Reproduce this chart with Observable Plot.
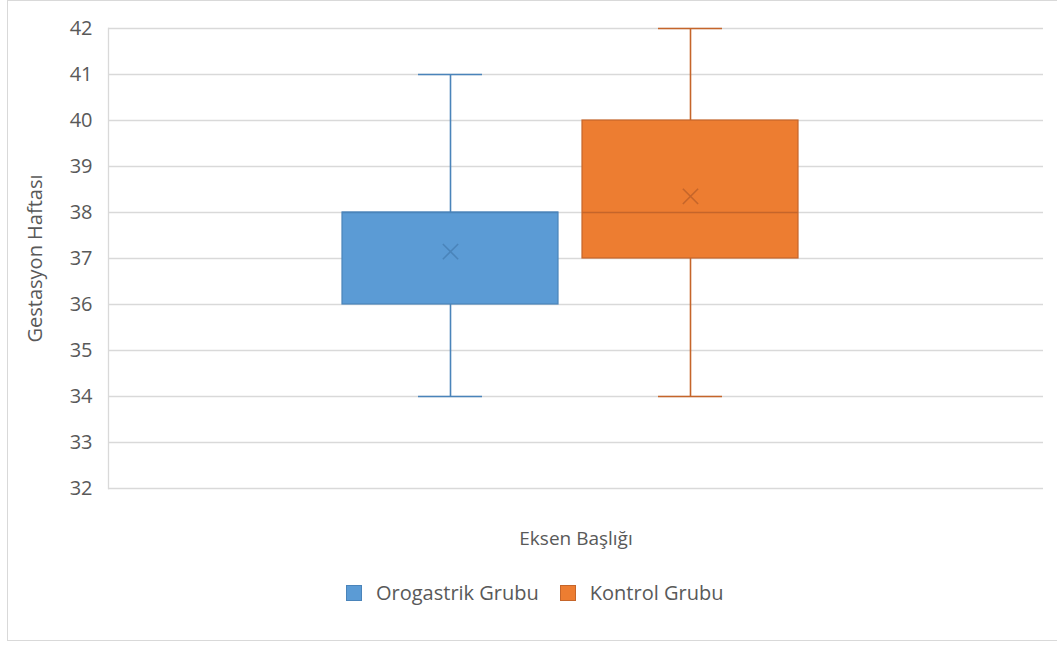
<!DOCTYPE html>
<html><head><meta charset="utf-8">
<script src="https://cdn.jsdelivr.net/npm/d3@7"></script>
<script src="https://cdn.jsdelivr.net/npm/@observablehq/plot@0.6"></script>
<style>
body{margin:0;background:#fff;font-family:"Open Sans",sans-serif;}
#frame{position:absolute;left:7px;top:0;width:1060px;height:641px;border:1px solid #d9d9d9;box-sizing:border-box;}
#chart{position:absolute;left:0;top:0;}
#chart svg g[aria-label="x-axis label"] text{font-size:19px;}
#legend{position:absolute;top:579px;left:346px;display:flex;align-items:center;font-size:20px;color:#595959;white-space:nowrap;}
#legend .sw{display:inline-block;width:16px;height:16px;box-sizing:border-box;margin-right:14px;}
#legend .item{display:flex;align-items:center;margin-right:21px;}
</style></head>
<body>
<div id="frame"></div>
<div id="chart"></div>
<div id="legend"></div>
<script>
const groups = ["Orogastrik Grubu", "Kontrol Grubu"];
const mins = [34, 34];
const q1s = [36, 37];
const medians = [38, 38];
const q3s = [38, 40];
const maxs = [41, 42];
const means = [37.15, 38.35];
const fills = ["#5b9bd5", "#ed7d31"];
const strokes = ["#4a84ba", "#c5652a"];
const yTicks = [32, 33, 34, 35, 36, 37, 38, 39, 40, 41, 42];

const rows = groups.map((g, i) => ({
  group: g, min: mins[i], q1: q1s[i], median: medians[i], q3: q3s[i],
  max: maxs[i], mean: means[i], fill: fills[i], stroke: strokes[i]
}));

const chart = Plot.plot({
  width: 1057,
  height: 560,
  marginLeft: 108,
  marginRight: 14,
  marginTop: 28,
  marginBottom: 72,
  style: {fontFamily: "'Open Sans', sans-serif", fontSize: "20px", color: "#595959", background: "transparent"},
  x: {domain: groups, range: [342, 798], paddingInner: 0.1, paddingOuter: 0},
  y: {domain: [32, 42]},
  marks: [
    Plot.ruleY(yTicks, {stroke: "#d9d9d9", strokeWidth: 1.3}),
    Plot.frame({anchor: "left", stroke: "#d9d9d9", strokeWidth: 1.3}),
    Plot.axisY({ticks: yTicks, tickSize: 0, tickPadding: 16, label: "Gestasyon Haftası", labelAnchor: "center", labelOffset: 81, labelArrow: "none", fill: "#595959"}),
    Plot.axisX({ticks: [], tickSize: 0, label: "Eksen Başlığı", labelAnchor: "center", labelOffset: 56, labelArrow: "none", fill: "#595959"}),
    Plot.ruleX(rows, {x: "group", y1: "min", y2: "q1", stroke: "stroke", strokeWidth: 1.6}),
    Plot.ruleX(rows, {x: "group", y1: "q3", y2: "max", stroke: "stroke", strokeWidth: 1.6}),
    Plot.tickY(rows, {x: "group", y: "min", stroke: "stroke", strokeWidth: 1.6, insetLeft: 76, insetRight: 76}),
    Plot.tickY(rows, {x: "group", y: "max", stroke: "stroke", strokeWidth: 1.6, insetLeft: 76, insetRight: 76}),
    Plot.barY(rows, {x: "group", y1: "q1", y2: "q3", fill: "fill", stroke: "stroke", strokeWidth: 1.2}),
    Plot.tickY(rows, {x: "group", y: "median", stroke: "stroke", strokeWidth: 1.6}),
    Plot.dot(rows, {x: "group", y: "mean", symbol: "times", r: 7, stroke: "stroke", strokeWidth: 1.6})
  ]
});
document.getElementById("chart").appendChild(chart);

const legend = document.getElementById("legend");
groups.forEach((g, i) => {
  const item = document.createElement("div");
  item.className = "item";
  const sw = document.createElement("span");
  sw.className = "sw";
  sw.style.background = fills[i];
  sw.style.border = "1px solid " + strokes[i];
  item.appendChild(sw);
  item.appendChild(document.createTextNode(g));
  legend.appendChild(item);
});
</script>
</body></html>
